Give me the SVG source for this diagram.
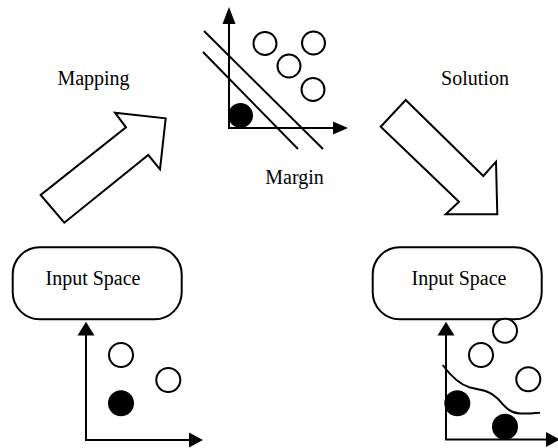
<svg xmlns="http://www.w3.org/2000/svg" width="558" height="448" viewBox="0 0 558 448">
<style>
text{font-family:"Liberation Serif","Times New Roman",serif;font-size:20px;fill:#000;text-anchor:middle}
.ln{fill:none;stroke:#000;stroke-width:2}
.ah{fill:#000;stroke:none}
.oc{fill:#fff;stroke:#000;stroke-width:2}
.fc{fill:#000;stroke:#000;stroke-width:2}
.box{fill:#fff;stroke:#000;stroke-width:2}
.blk{fill:#fff;stroke:#000;stroke-width:2;stroke-linejoin:miter}
</style>
<rect width="558" height="448" fill="#fff"/>
<g id="feature-space">
<line class="ln" x1="204" y1="31" x2="323" y2="149"/>
<line class="ln" x1="203" y1="52" x2="298" y2="149"/>
<line class="ln" x1="229" y1="22" x2="229" y2="128"/>
<line class="ln" x1="228" y1="128" x2="335" y2="128"/>
<polygon class="ah" points="229,7 222.5,24 235.5,24"/>
<polygon class="ah" points="348,128 333,121.5 333,134.5"/>
<circle class="fc" cx="240.5" cy="115.5" r="11.5"/>
<circle class="oc" cx="265" cy="43.5" r="11.5"/>
<circle class="oc" cx="313.5" cy="43" r="11.5"/>
<circle class="oc" cx="289" cy="66" r="11.5"/>
<circle class="oc" cx="313" cy="89.5" r="11.5"/>
<text x="294.5" y="184">Margin</text>
</g>
<g id="mapping-arrow">
<polygon class="blk" points="40.7,195 64.3,222.7 148.3,155 160,169.3 165.7,118.3 115,112.7 126,127.3"/>
<text x="93.5" y="85">Mapping</text>
</g>
<g id="solution-arrow">
<polygon class="blk" points="405.7,100 380.7,126.7 459,201.7 445.7,214.3 497.3,214.3 496,161.7 483.3,176"/>
<text x="475" y="85">Solution</text>
</g>
<g id="input-space-left">
<rect class="box" x="12.7" y="247.3" width="169" height="72" rx="27" ry="27"/>
<text x="93" y="285">Input Space</text>
</g>
<g id="input-space-right">
<rect class="box" x="372.7" y="247.3" width="169" height="72" rx="27" ry="27"/>
<text x="459" y="285">Input Space</text>
</g>
<g id="connectors">
<line class="ln" x1="86" y1="334" x2="86" y2="440"/>
<line class="ln" x1="85" y1="440" x2="190" y2="440"/>
<polygon class="ah" points="86,321.7 77.5,335.5 94.5,335.5"/>
<polygon class="ah" points="203,440 189,432.5 189,447.5"/>
<line class="ln" x1="446" y1="334" x2="446" y2="439.5"/>
<line class="ln" x1="445" y1="439.5" x2="547" y2="439.5"/>
<polygon class="ah" points="446,321.7 437.5,335.5 454.5,335.5"/>
<polygon class="ah" points="560,439.5 546,432 546,447"/>
</g>
<g id="input-points-left">
<circle class="oc" cx="121" cy="355" r="12"/>
<circle class="oc" cx="168.3" cy="380" r="12"/>
<circle class="fc" cx="121" cy="403.3" r="12"/>
</g>
<g id="input-points-right">
<path class="ln" d="M442.7,365 C450,375 458,384 470,387.5 C482,390 490,391 497,398 C504,405 508,413 520,413.5 C530,414 535,413 540,412.7"/>
<circle class="oc" cx="505" cy="330.7" r="12"/>
<circle class="oc" cx="481" cy="355" r="12"/>
<circle class="oc" cx="528.3" cy="379.3" r="12"/>
<circle class="fc" cx="457.3" cy="403.3" r="12"/>
<circle class="fc" cx="505" cy="426.7" r="12"/>
</g>
</svg>
